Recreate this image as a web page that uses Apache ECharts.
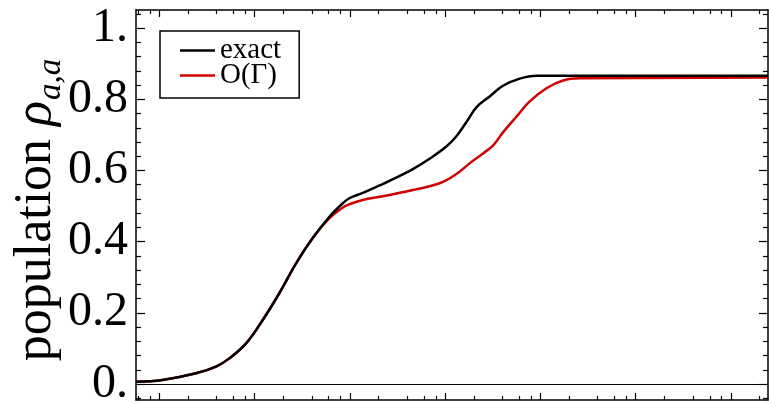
<!DOCTYPE html>
<html>
<head>
<meta charset="utf-8">
<script src="https://cdn.jsdelivr.net/npm/echarts@6/dist/echarts.min.js"></script>
<style>
  html, body { margin: 0; padding: 0; background: #fff; }
  #chart { width: 769px; height: 404px; }
</style>
</head>
<body>
<div id="chart"></div>
<script>
// Population of level a versus time (log time axis)
const timeExact = [0.57, 1.08, 2.43, 3.94, 5.44, 8.15, 12.2, 18.2, 27.3, 40.8, 61.1, 84.4, 99, 137, 205, 261, 459, 687, 1037, 1321, 1682, 2142, 2933, 4049, 6067, 9077, 12530, 2.45e6];
const popExact  = [0.006, 0.011, 0.030, 0.049, 0.072, 0.114, 0.180, 0.255, 0.339, 0.410, 0.470, 0.508, 0.522, 0.537, 0.558, 0.571, 0.604, 0.633, 0.668, 0.697, 0.737, 0.778, 0.808, 0.838, 0.858, 0.866, 0.866, 0.866];

const timeFirstOrder = [0.57, 1.08, 2.43, 3.94, 5.44, 8.15, 12.2, 18.2, 27.3, 40.8, 61.1, 84.4, 99, 137, 205, 261, 459, 875, 1312, 1808, 2497, 3178, 4049, 5598, 7727, 11570, 17290, 25880, 2.45e6];
const popFirstOrder  = [0.006, 0.011, 0.030, 0.049, 0.072, 0.114, 0.180, 0.255, 0.339, 0.410, 0.466, 0.496, 0.505, 0.517, 0.526, 0.531, 0.545, 0.564, 0.590, 0.620, 0.648, 0.670, 0.707, 0.751, 0.794, 0.831, 0.853, 0.859, 0.861];

const seriesNames = ['exact', 'O(Γ)'];

const yTickValues = [0, 0.2, 0.4, 0.6, 0.8, 1.0];
const yTickLabels = ['0.', '0.2', '0.4', '0.6', '0.8', '1.'];

const xDecades = [1, 10, 100, 1e3, 1e4, 1e5, 1e6];
const xMinorFactors = [2, 4, 6, 8];

const X_MIN = 0.57, X_MAX = 2.45e6;
const Y_MIN = -0.045, Y_MAX = 1.051;
const FONT = '"Liberation Serif", "Times New Roman", serif';

// tick positions
const xMinorTicks = [0.6, 0.8];
xDecades.forEach(d => xMinorFactors.forEach(f => {
  const v = d * f;
  if (v <= X_MAX) xMinorTicks.push(v);
}));
const yMinorTicks = [];
for (let i = -1; i <= 26; i++) {
  const v = +(i * 0.04).toFixed(2);
  if (i % 5 !== 0 && v >= Y_MIN && v <= Y_MAX) yMinorTicks.push(v);
}

function xAxisDef(position, ticks, len, showLine) {
  return {
    type: 'log', logBase: 10, position: position, gridIndex: 0,
    min: X_MIN, max: X_MAX,
    axisLine: { show: showLine, onZero: false, lineStyle: { color: '#000', width: 1.5 } },
    axisTick: { show: true, inside: true, length: len, customValues: ticks, lineStyle: { color: '#000', width: 1.2 } },
    axisLabel: { show: false },
    splitLine: { show: false },
    minorTick: { show: false }
  };
}
function yAxisDef(position, ticks, len, showLine, showLabel) {
  return {
    type: 'value', position: position, gridIndex: 0,
    min: Y_MIN, max: Y_MAX,
    axisLine: { show: showLine, onZero: false, lineStyle: { color: '#000', width: 1.5 } },
    axisTick: { show: true, inside: true, length: len, customValues: ticks, lineStyle: { color: '#000', width: 1.2 } },
    axisLabel: showLabel ? {
      show: true, customValues: yTickValues, margin: 8,
      fontFamily: FONT, fontSize: 48, color: '#000',
      formatter: v => {
        const i = yTickValues.findIndex(t => Math.abs(t - v) < 1e-9);
        return i >= 0 ? yTickLabels[i] : '';
      }
    } : { show: false },
    splitLine: { show: false },
    minorTick: { show: false }
  };
}

const chart = echarts.init(document.getElementById('chart'), null, { renderer: 'canvas' });

chart.setOption({
  animation: false,
  backgroundColor: '#fff',
  grid: { left: 136, right: 1, top: 10, bottom: 4, containLabel: false, outerBoundsMode: 'none' },
  xAxis: [
    xAxisDef('bottom', xDecades, 7, true),
    xAxisDef('bottom', xMinorTicks, 4, false),
    xAxisDef('top', xDecades, 7, true),
    xAxisDef('top', xMinorTicks, 4, false)
  ],
  yAxis: [
    yAxisDef('left', yTickValues, 9, true, true),
    yAxisDef('left', yMinorTicks, 5, false, false),
    yAxisDef('right', yTickValues, 9, true, false),
    yAxisDef('right', yMinorTicks, 5, false, false)
  ],
  legend: {
    orient: 'vertical', left: 160, top: 31,
    data: seriesNames,
    icon: 'rect', itemWidth: 35, itemHeight: 2.5, itemGap: -4,
    padding: [5, 18, 8, 20],
    borderColor: '#000', borderWidth: 1.5, backgroundColor: '#fff',
    textStyle: { fontFamily: FONT, fontSize: 29, color: '#000' }
  },
  graphic: [{
    type: 'text', x: 36, y: 210, rotation: Math.PI / 2,
    style: {
      text: '{n|population }{r|ρ}{s|a,a}',
      align: 'center', verticalAlign: 'middle', fill: '#000',
      fontFamily: FONT, fontSize: 52,
      rich: {
        n: { fontFamily: FONT, fontSize: 52, lineHeight: 52, color: '#000' },
        r: { fontFamily: FONT, fontSize: 52, lineHeight: 52, fontStyle: 'italic', color: '#000' },
        s: { fontFamily: FONT, fontSize: 33, lineHeight: 33, fontStyle: 'italic', color: '#000', verticalAlign: 'top', padding: [25, 0, 0, 1] }
      }
    }
  }],
  series: [
    {
      name: seriesNames[1], type: 'line', xAxisIndex: 0, yAxisIndex: 0,
      data: timeFirstOrder.map((t, i) => [t, popFirstOrder[i]]),
      symbol: 'none', showSymbol: false, smooth: 0.4,
      lineStyle: { color: '#d10000', width: 2.5 }, itemStyle: { color: '#d10000' },
      z: 3
    },
    {
      name: seriesNames[0], type: 'line', xAxisIndex: 0, yAxisIndex: 0,
      data: timeExact.map((t, i) => [t, popExact[i]]),
      symbol: 'none', showSymbol: false, smooth: 0.4,
      lineStyle: { color: '#000', width: 2.5 }, itemStyle: { color: '#000' },
      z: 4,
      markLine: {
        silent: true, symbol: 'none', label: { show: false },
        lineStyle: { color: '#000', width: 1, type: 'solid' },
        data: [{ yAxis: 0 }]
      }
    }
  ]
});
</script>
</body>
</html>
